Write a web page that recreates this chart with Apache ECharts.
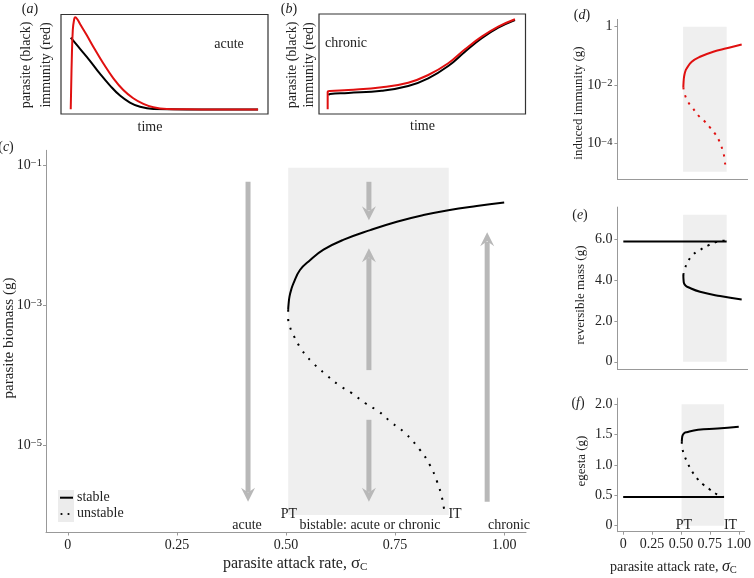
<!DOCTYPE html>
<html><head><meta charset="utf-8">
<script src="https://cdn.jsdelivr.net/npm/echarts@6/dist/echarts.min.js"></script>
<style>html,body{margin:0;padding:0;background:#fff}#c{width:754px;height:578px}</style>
</head><body><div id="c"></div>
<script>
// ---- panel (a): acute time course (time, level) ----
const aRed = [[4.7,0.047],[5.2,0.543],[5.7,0.844],[6.3,0.945],[6.9,0.972],[7.9,0.952],[9.2,0.905],[12.4,0.794],[15.6,0.676],[20.4,0.510],[25.3,0.359],[30.1,0.241],[34.9,0.158],[39.8,0.101],[44.6,0.067],[51.1,0.050],[60.7,0.047],[95.2,0.045]];
const aBlack = [[4.7,0.767],[9.2,0.655],[14.0,0.535],[18.8,0.405],[23.7,0.285],[28.5,0.185],[33.3,0.115],[38.2,0.072],[44.6,0.050],[60.7,0.045],[95.2,0.045]];
// ---- panel (b): chronic time course ----
const bRed = [[4.2,0.047],[4.2,0.223],[5.3,0.23],[14.2,0.24],[30.4,0.267],[43.2,0.313],[52.9,0.39],[62.6,0.507],[70.7,0.647],[78.8,0.773],[86.8,0.873],[94.9,0.947]];
const bBlack = [[4.5,0.19],[5.3,0.20],[14.2,0.21],[30.4,0.233],[43.2,0.28],[52.9,0.357],[62.6,0.48],[70.7,0.623],[78.8,0.757],[86.8,0.863],[94.9,0.94]];
// ---- panel (c): parasite biomass, log10(g) vs attack rate ----
const cStableLog10 = [[0.505,-3.07],[0.506,-2.98],[0.508,-2.88],[0.512,-2.78],[0.517,-2.69],[0.532,-2.50],[0.555,-2.36],[0.586,-2.21],[0.631,-2.07],[0.693,-1.93],[0.754,-1.81],[0.815,-1.715],[0.872,-1.645],[0.937,-1.585],[1.0,-1.535]];
const cUnstableLog10 = [[0.505,-3.07],[0.505,-3.19],[0.509,-3.31],[0.517,-3.43],[0.536,-3.64],[0.559,-3.81],[0.589,-3.98],[0.620,-4.14],[0.651,-4.26],[0.681,-4.40],[0.712,-4.52],[0.742,-4.68],[0.773,-4.83],[0.807,-5.07],[0.830,-5.29],[0.846,-5.52],[0.857,-5.74],[0.863,-5.95]];
// arrows: [x, log10 start, log10 end]
const cArrows = [[0.413,-1.24,-5.81],[0.690,-1.24,-1.79],[0.690,-3.93,-2.19],[0.690,-4.64,-5.81],[0.961,-5.81,-1.96]];
const bistable = [0.505, 0.873]; // PT, IT
const cShadeLog10 = [-6.0, -1.04];
// ---- panel (d): induced immunity log10(g) ----
const dStableLog10 = [[0.507,-2.08],[0.509,-1.9],[0.513,-1.72],[0.522,-1.55],[0.535,-1.43],[0.578,-1.20],[0.648,-1.03],[0.760,-0.86],[0.873,-0.74],[1.0,-0.61]];
const dUnstableLog10 = [[0.507,-2.08],[0.521,-2.34],[0.549,-2.59],[0.591,-2.81],[0.633,-3.04],[0.684,-3.23],[0.732,-3.45],[0.774,-3.66],[0.811,-3.92],[0.836,-4.19],[0.853,-4.46],[0.861,-4.75]];
const dShadeLog10 = [-4.97, 0];
// ---- panel (e): reversible mass (g) ----
const eStableTop = [[0,5.9],[0.873,5.9]];
const eStableLow = [[0.507,4.25],[0.509,4.0],[0.513,3.84],[0.525,3.74],[0.549,3.65],[0.648,3.43],[0.817,3.22],[1.0,3.05]];
const eUnstable = [[0.507,4.25],[0.521,4.58],[0.549,4.95],[0.591,5.26],[0.648,5.48],[0.713,5.69],[0.777,5.85],[0.845,5.93],[0.873,5.92]];
const eShade = [0, 7.2];
// ---- panel (f): egesta (g) ----
const fStableLow = [[0,0.47],[0.873,0.47]];
const fStableTop = [[0.507,1.38],[0.510,1.45],[0.513,1.48],[0.525,1.52],[0.549,1.54],[0.648,1.58],[0.817,1.60],[1.0,1.63]];
const fUnstable = [[0.507,1.38],[0.513,1.26],[0.535,1.13],[0.563,1.01],[0.597,0.89],[0.639,0.78],[0.690,0.68],[0.747,0.60],[0.808,0.52],[0.87,0.47]];
const fShade = [0, 2.0];
// ---- tick labels ----
const xTickValues = [0,0.25,0.5,0.75,1];
const xTickLabels = ['0','0.25','0.50','0.75','1.00'];
const cYTicks = [-5,-3,-1];
const dYTicks = [-4,-2,0];
const eYTicks = [0,2,4,6];
const eYLabels = ['0','2.0','4.0','6.0'];
const fYTicks = [0,0.5,1,1.5,2];
const fYLabels = ['0','0.5','1.0','1.5','2.0'];

const FONT = 'Liberation Serif';
const TXT = '#222';
const AX = '#999';
const SHADE = '#efefef';
const ARROW = '#b8b8b8';

const chart = echarts.init(document.getElementById('c'), null, {renderer:'canvas'});

const supRich = {
  sup:{fontSize:10.5, fontFamily:FONT, color:TXT, verticalAlign:'top', lineHeight:10, padding:[0,0,7,0]},
  base:{fontSize:14, fontFamily:FONT, color:TXT}
};
function logFmt(v){ return v===0 ? '{base|1}' : '{base|10}{sup|\u2212'+Math.abs(v)+'}'; }

function hiddenAxis(idx,min,max){ return {gridIndex:idx,type:'value',min:min,max:max,show:false}; }
function xAxisSmall(idx, labels){
  return {gridIndex:idx,type:'value',min:-0.05,max:1.05,
    axisLine:{show:true,onZero:false,lineStyle:{color:AX,width:1}},
    axisTick:{show:labels,customValues:xTickValues,length:3,lineStyle:{color:AX}},
    axisLabel:{show:labels,customValues:xTickValues,margin:6,fontSize:14,fontFamily:FONT,color:TXT,
      formatter:v=>xTickLabels[xTickValues.indexOf(v)]},
    splitLine:{show:false}};
}
function yAxisCustom(idx,min,max,ticks,fmt,rich,margin){
  return {gridIndex:idx,type:'value',min:min,max:max,
    axisLine:{show:true,onZero:false,lineStyle:{color:AX,width:1}},
    axisTick:{show:true,customValues:ticks,length:3,lineStyle:{color:AX}},
    axisLabel:{customValues:ticks,margin:margin,fontSize:14,fontFamily:FONT,color:TXT,formatter:fmt,rich:rich},
    splitLine:{show:false}};
}

function line(xi,yi,data,color,dotted,w){
  return {type:'line',xAxisIndex:xi,yAxisIndex:yi,data:data,symbol:'none',smooth:0.45,silent:true,
    lineStyle:{color:color,width:w||2,type:dotted?dotted:'solid',cap:'butt'},z:5};
}
function shade(xi,yi,ys){
  return {type:'line',xAxisIndex:xi,yAxisIndex:yi,data:[],symbol:'none',silent:true,
    markArea:{silent:true,itemStyle:{color:SHADE},data:[[{xAxis:bistable[0],yAxis:ys[0]},{xAxis:bistable[1],yAxis:ys[1]}]]},z:1};
}

function txt(x,y,t,opt){
  opt=opt||{};
  return {type:'text',x:x,y:y,rotation:opt.rot||0,silent:true,z:100,
    style:{text:t,fontSize:opt.size||14,fontFamily:FONT,fill:opt.color||TXT,align:opt.align||'center',verticalAlign:'middle',
      fontStyle:opt.italic?'italic':'normal',rich:opt.rich}};
}
const panelRich = {i:{fontStyle:'italic',fontSize:14,fontFamily:FONT,fill:TXT,color:TXT}};
const subRichC = {sig:{fontSize:17,fontFamily:FONT,fill:TXT,color:TXT},sub:{fontSize:11,fontFamily:FONT,fill:TXT,color:TXT,verticalAlign:'bottom',padding:[7,0,0,0]}};
const subRichF = {sig:{fontSize:16,fontFamily:FONT,fontStyle:'italic',fill:TXT,color:TXT},sub:{fontSize:10.5,fontFamily:FONT,fill:TXT,color:TXT,verticalAlign:'bottom',padding:[6,0,0,0]}};

const option = {
  animation:false,
  backgroundColor:'#fff',
  grid:[
    {left:61,top:14.5,width:207,height:99.5,show:true,borderColor:'#333',borderWidth:1.2,backgroundColor:'transparent'},
    {left:319,top:14,width:206.5,height:100,show:true,borderColor:'#333',borderWidth:1.2,backgroundColor:'transparent'},
    {left:46,top:150.3,width:480,height:382.2},
    {left:617.4,top:19.4,width:130.2,height:159.7},
    {left:617.4,top:207.1,width:130.2,height:162},
    {left:617.4,top:398.2,width:130.2,height:133.5}
  ],
  xAxis:[
    hiddenAxis(0,0,100),
    hiddenAxis(1,0,100),
    xAxisSmall(2,true),
    xAxisSmall(3,false),
    xAxisSmall(4,false),
    xAxisSmall(5,true)
  ],
  yAxis:[
    hiddenAxis(0,0,1),
    hiddenAxis(1,0,1),
    yAxisCustom(2,-6.25,-0.79,cYTicks,logFmt,supRich,4),
    yAxisCustom(3,-5.22,0.25,dYTicks,logFmt,supRich,5),
    yAxisCustom(4,-0.36,7.58,eYTicks,v=>eYLabels[eYTicks.indexOf(v)],null,5),
    yAxisCustom(5,-0.1,2.1,fYTicks,v=>fYLabels[fYTicks.indexOf(v)],null,5)
  ],
  series:[
    line(0,0,aBlack,'#000'),
    line(0,0,aRed,'#e01010'),
    line(1,1,bBlack,'#000'),
    line(1,1,bRed,'#e01010'),
    shade(2,2,cShadeLog10),
    {type:'custom',xAxisIndex:2,yAxisIndex:2,data:cArrows,silent:true,z:3,
      encode:{x:0,y:[1,2]},
      renderItem:function(params,api){
        const x=api.value(0),y1=api.value(1),y2=api.value(2);
        const p1=api.coord([x,y1]),p2=api.coord([x,y2]);
        const dir=p2[1]>p1[1]?1:-1;
        const head=14,hw=7;
        return {type:'group',children:[
          {type:'line',shape:{x1:p1[0],y1:p1[1],x2:p2[0],y2:p2[1]-dir*head*0.7},style:{stroke:ARROW,lineWidth:5}},
          {type:'polygon',shape:{points:[[p2[0],p2[1]],[p2[0]-hw,p2[1]-dir*head],[p2[0],p2[1]-dir*head*0.65],[p2[0]+hw,p2[1]-dir*head]]},style:{fill:ARROW}}
        ]};
      }},
    line(2,2,cStableLog10,'#000'),
    line(2,2,cUnstableLog10,'#000',[2,7]),
    shade(3,3,dShadeLog10),
    line(3,3,dStableLog10,'#e01010'),
    line(3,3,dUnstableLog10,'#e01010',[2,6]),
    shade(4,4,eShade),
    line(4,4,eStableTop,'#000'),
    line(4,4,eStableLow,'#000'),
    line(4,4,eUnstable,'#000',[2,6]),
    shade(5,5,fShade),
    line(5,5,fStableLow,'#000'),
    line(5,5,fStableTop,'#000'),
    line(5,5,fUnstable,'#000',[2,6])
  ],
  graphic:[
    txt(30,9,'({i|a})',{rich:panelRich}),
    txt(289,9,'({i|b})',{rich:panelRich}),
    txt(26,65,'parasite (black)',{rot:Math.PI/2}),
    txt(46,65,'immunity (red)',{rot:Math.PI/2}),
    txt(292,65,'parasite (black)',{rot:Math.PI/2}),
    txt(309,65,'immunity (red)',{rot:Math.PI/2}),
    txt(229,44,'acute'),
    txt(325,43,'chronic',{align:'left'}),
    txt(150,127,'time'),
    txt(422.5,126,'time'),
    txt(6,147,'({i|c})',{rich:panelRich}),
    txt(9,338,'parasite biomass (g)',{rot:Math.PI/2,size:15}),
    {type:'rect',shape:{x:58,y:490,width:16,height:32},style:{fill:'#ececec'},silent:true,z:50},
    {type:'line',shape:{x1:60,y1:497.7,x2:73,y2:497.7},style:{stroke:'#000',lineWidth:2},silent:true,z:51},
    {type:'circle',shape:{cx:61.5,cy:514,r:1.1},style:{fill:'#000'},silent:true,z:51},
    {type:'circle',shape:{cx:68.5,cy:514,r:1.1},style:{fill:'#000'},silent:true,z:51},
    txt(77,497,'stable',{align:'left'}),
    txt(77,513,'unstable',{align:'left'}),
    txt(247,525,'acute'),
    txt(289,514,'PT'),
    txt(370,525,'bistable: acute or chronic'),
    txt(455,514,'IT'),
    txt(509,525,'chronic'),
    txt(223,564,'parasite attack rate, {sig|\u03c3}{sub|C}',{rich:subRichC,size:16,align:'left'}),
    txt(582,15,'({i|d})',{rich:panelRich}),
    txt(579,103,'induced immunity (g)',{rot:Math.PI/2,size:13}),
    txt(580,215,'({i|e})',{rich:panelRich}),
    txt(581,295,'reversible mass (g)',{rot:Math.PI/2,size:13}),
    txt(578,403,'({i|f})',{rich:panelRich}),
    txt(582,461,'egesta (g)',{rot:Math.PI/2,size:13}),
    txt(684,525,'PT'),
    txt(730.5,525,'IT'),
    txt(610,567,'parasite attack rate, {sig|\u03c3}{sub|C}',{rich:subRichF,align:'left'})
  ]
};
chart.setOption(option);
</script>
</body></html>
